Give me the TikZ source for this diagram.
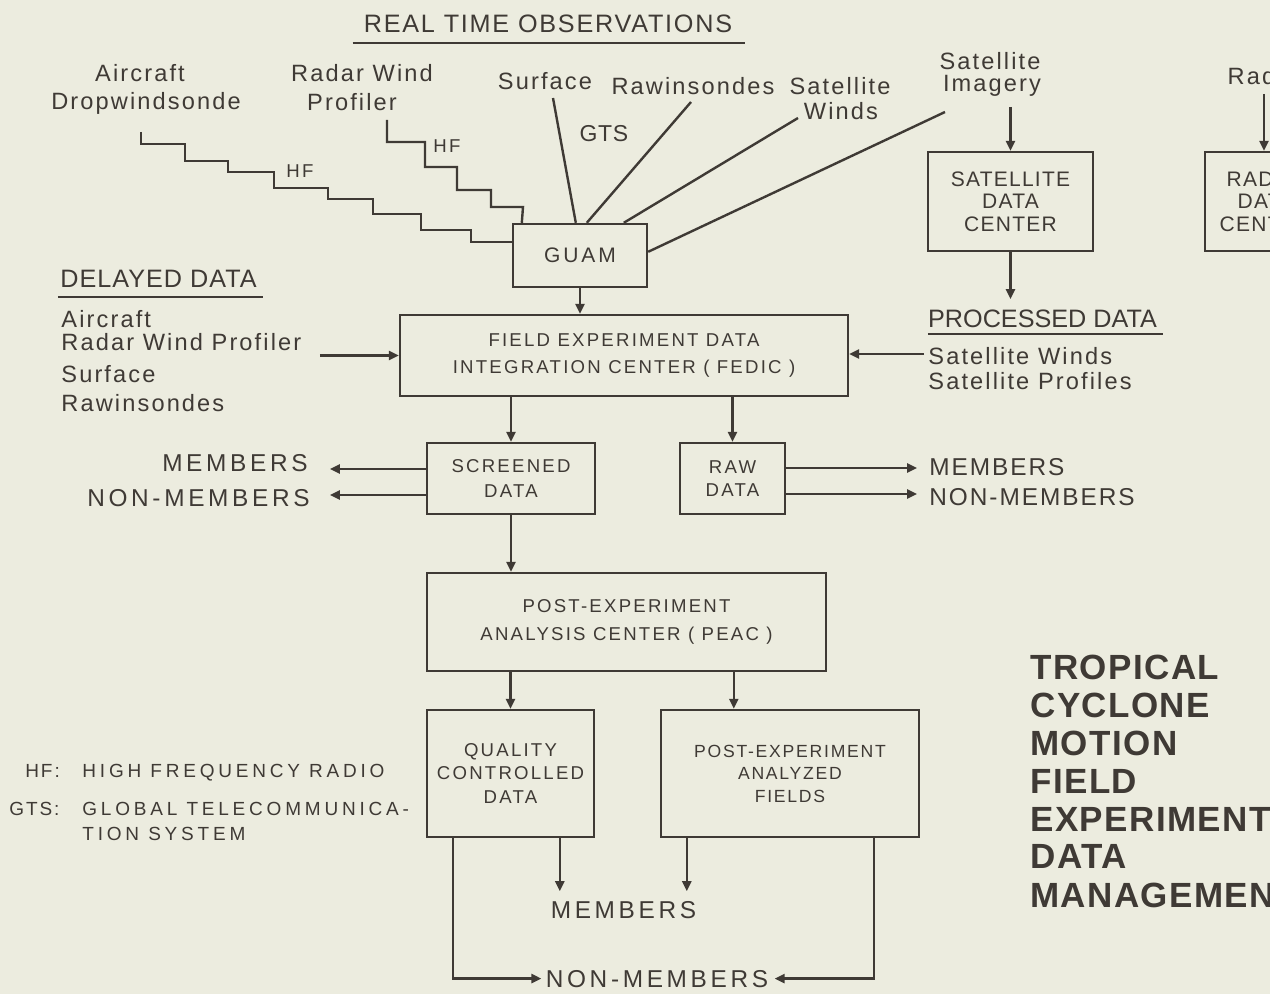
\documentclass[tikz,border=0pt]{standalone}
\usepackage{fontspec}
\setmainfont{Liberation Sans}
\usetikzlibrary{arrows.meta,calc}
\definecolor{ink}{HTML}{3F3A35}
\definecolor{paper}{HTML}{ECECDF}
\newcommand\FS[3]{\fontsize{#1}{#2}\selectfont\addfontfeature{LetterSpace=#3}}
\tikzset{
  wire/.style={draw=ink, line width=1.2pt, line join=miter},
  arr/.style={wire, -{Triangle[length=5pt,width=4.5pt]}},
  box/.style={draw=ink, line width=1.2pt, inner sep=0pt, align=center, text=ink},
  lbl/.style={inner sep=0pt, text=ink, anchor=base},
  fMix/.style={font={\FS{11.8}{14}{9}}},
  fBox/.style={font={\FS{9.3}{#1}{12}}},
  fMem/.style={font={\FS{12.2}{14}{15}}},
  fLeg/.style={font={\FS{9.5}{12}{20}}},
  fTit/.style={font={\fontsize{17.5}{19}\selectfont\bfseries\addfontfeature{LetterSpace=4}}},
}
\begin{document}
\begin{tikzpicture}[x=0.5pt,y=-0.5pt]
\useasboundingbox (0,0) rectangle (1270,994);
\fill[paper] (0,0) rectangle (1270,994);
\clip (0,0) rectangle (1270,994);

% ---------- headings ----------
\node[lbl, font={\FS{12.6}{14}{7}}] (rto) at (548,33) {REAL TIME OBSERVATIONS};
\draw[wire] ([xshift=-5.5pt,yshift=-5pt]rto.base west) -- ([xshift=6pt,yshift=-5pt]rto.base east);

% ---------- real-time source labels ----------
\node[lbl, fMix] (ac) at (140,82) {Aircraft};
\node[lbl, fMix] (dw) at (146,110) {Dropwindsonde};
\node[lbl, fMix] (rw) at (362,82) {Radar Wind};
\node[lbl, fMix] (pf) at (352,111) {Profiler};
\node[lbl, fMix] (sf) at (545,90) {Surface};
\node[lbl, fMix] (rs) at (693,95) {Rawinsondes};
\node[lbl, fMix] (sw1) at (840,95) {Satellite};
\node[lbl, fMix] (sw2) at (841,120) {Winds};
\node[lbl, fMix] (si1) at (990,70) {Satellite};
\node[lbl, fMix] (si2) at (992,92) {Imagery};
\node[lbl, fMix] (rad) at (1264,85) {Radar};
\node[lbl, font={\FS{11.5}{14}{3}}] (gts) at (604,142) {GTS};
\node[lbl, fBox=12] (hf1) at (300,178) {HF};
\node[lbl, fBox=12] (hf2) at (447,153) {HF};

% ---------- boxes ----------
\node[box, minimum width=67pt, minimum height=31.5pt, font={\FS{10.5}{12}{14}}] (guam) at (580,255.5) {GUAM};
\node[box, minimum width=82.5pt, minimum height=49.5pt, font={\FS{10.5}{11.25}{6}}] (sdc) at (1010.5,201.5) {SATELLITE\\DATA\\CENTER};
\node[box, minimum width=61pt, minimum height=49.5pt, font={\FS{10.5}{11.25}{6}}] (radc) at (1266,201.5) {RADAR\\DATA\\CENTER};
\node[box, minimum width=224pt, minimum height=40.5pt, fBox=13.5] (fedic) at (624,355.5) {FIELD EXPERIMENT DATA\\INTEGRATION CENTER ( FEDIC )};
\node[box, minimum width=84pt, minimum height=35.5pt, fBox=12.5] (scr) at (511,478.5) {SCREENED\\DATA};
\node[box, minimum width=52.5pt, minimum height=35.5pt, fBox=11.75] (raw) at (732.5,478.5) {RAW\\DATA};
\node[box, minimum width=199.5pt, minimum height=49pt, fBox=14] (peac) at (626.5,622) {POST-EXPERIMENT\\ANALYSIS CENTER ( PEAC )};
\node[box, minimum width=83.5pt, minimum height=63.5pt, fBox=11.75] (qc) at (510.5,773.5) {QUALITY\\CONTROLLED\\DATA};
\node[box, minimum width=129pt, minimum height=63.5pt, font={\FS{8.8}{11.25}{10}}] (peaf) at (790,773.5) {POST-EXPERIMENT\\ANALYZED\\FIELDS};

% ---------- delayed / processed data ----------
\node[lbl, font={\FS{12.6}{14}{4}}] (dd) at (158.5,288) {DELAYED DATA};
\draw[wire] ([xshift=-1pt,yshift=-4.5pt]dd.base west) -- ([xshift=3pt,yshift=-4.5pt]dd.base east);
\node[lbl, fMix, anchor=base west] (d1) at (61,328) {Aircraft};
\node[lbl, fMix, anchor=base west] (d2) at (61,351) {Radar Wind Profiler};
\node[lbl, fMix, anchor=base west] (d3) at (61,383) {Surface};
\node[lbl, fMix, anchor=base west] (d4) at (61,412) {Rawinsondes};

\node[lbl, font={\FS{12.6}{14}{0}}] (pd) at (1042.5,328) {PROCESSED DATA};
\draw[wire] ([yshift=-3pt]pd.base west) -- ([xshift=3pt,yshift=-3pt]pd.base east);
\node[lbl, fMix, anchor=base west] (p1) at (928,365) {Satellite Winds};
\node[lbl, fMix, anchor=base west] (p2) at (928,390) {Satellite Profiles};

% ---------- members labels ----------
\node[lbl, fMem, anchor=base east] (ml) at (308,472) {MEMBERS};
\node[lbl, fMem, anchor=base east] (nl) at (310,507) {NON-MEMBERS};
\node[lbl, font={\FS{12.2}{14}{8}}, anchor=base west] (mr) at (929,476) {MEMBERS};
\node[lbl, font={\FS{12.2}{14}{8}}, anchor=base west] (nr) at (929,506) {NON-MEMBERS};
\node[lbl, fMem] (mb) at (623.5,918) {MEMBERS};
\node[lbl, fMem] (nmb) at (657,987) {NON-MEMBERS};

% ---------- legend ----------
\node[lbl, font={\FS{9.5}{12}{10}}, anchor=base west] (hfk) at (25,777) {HF:};
\node[lbl, fLeg, anchor=base west] (hfv) at (82,777) {HIGH FREQUENCY RADIO};
\node[lbl, font={\FS{9.5}{12}{10}}, anchor=base west] (gtk) at (9,815) {GTS:};
\node[lbl, fLeg, anchor=base west] (gtv) at (82,815) {GLOBAL TELECOMMUNICA-};
\node[lbl, fLeg, anchor=base west] (gtv2) at (82,840) {TION SYSTEM};

% ---------- title ----------
\node[lbl, fTit, anchor=base west] (t1) at (1030,680) {TROPICAL};
\node[lbl, fTit, anchor=base west] (t2) at (1030,718) {CYCLONE};
\node[lbl, fTit, anchor=base west] (t3) at (1030,755) {MOTION};
\node[lbl, fTit, anchor=base west] (t4) at (1030,793) {FIELD};
\node[lbl, fTit, anchor=base west] (t5) at (1030,831) {EXPERIMENT};
\node[lbl, fTit, anchor=base west] (t6) at (1030,868) {DATA};
\node[lbl, fTit, anchor=base west] (t7) at (1030,907) {MANAGEMENT};

% ---------- feeds into GUAM ----------
\draw[wire] (141,132) -- (141,144) -- (185,144) -- (185,161) -- (228,161) -- (228,172)
  -- (274,172) -- (274,188) -- (328,188) -- (328,199) -- (373,199) -- (373,214)
  -- (421,214) -- (421,230) -- (471,230) -- (471,242) -- ($(guam.west)+(0,-13.5)$);
\draw[wire] (387,120) -- (387,142) -- (425,142) -- (425,167) -- (457,167) -- (457,190)
  -- (491,190) -- (491,207) -- (523,207) -- ($(guam.north west)+(10,0)$);
\coordinate (sfs) at (553,98);
\coordinate (rss) at (691,102);
\coordinate (sws) at (798,118);
\coordinate (sis) at (945,112);
\draw[wire] (sfs) -- ($(guam.north west)+(64,0)$);
\draw[wire] (rss) -- ($(guam.north west)+(75,0)$);
\draw[wire] (sws) -- ($(guam.north west)+(112,0)$);
\draw[wire] (sis) -- ($(guam.north east)+(0,29)$);

% ---------- main flow ----------
\draw[arr] (guam.south) -- (guam.south |- fedic.north);
\coordinate (din) at ($(fedic.west)+(-79,0)$);
\draw[arr] (din) -- (fedic.west);
\coordinate (pin) at ($(fedic.east)+(75,-1.5)$);
\draw[arr] (pin) -- (pin -| fedic.east);
\coordinate (sin) at ($(sdc.north)+(0,-44)$);
\draw[arr] (sin) -- (sdc.north);
\coordinate (sout) at ($(sdc.south)+(0,47)$);
\draw[arr] (sdc.south) -- (sout);
\coordinate (rin) at ($(radc.north)+(-2,-57)$);
\draw[arr] (rin) -- (rin |- radc.north);

\draw[arr] (scr.north |- fedic.south) -- (scr.north);
\draw[arr] (raw.north |- fedic.south) -- (raw.north);
\draw[arr] (scr.south) -- (scr.south |- peac.north);
\draw[arr] (qc.north |- peac.south) -- (qc.north);
\coordinate (pa) at ($(peaf.north west)+(74,0)$);
\draw[arr] (pa |- peac.south) -- (pa);

% screened / raw outputs
\coordinate (so1) at ($(scr.west)+(0,-9.5)$);
\coordinate (so1e) at ($(so1)+(-96,0)$);
\coordinate (so2) at ($(scr.west)+(0,16.5)$);
\coordinate (so2e) at ($(so2)+(-96,0)$);
\draw[arr] (so1) -- (so1e);
\draw[arr] (so2) -- (so2e);
\coordinate (ro1) at ($(raw.east)+(0,-10.5)$);
\coordinate (ro1e) at ($(ro1)+(131,0)$);
\coordinate (ro2) at ($(raw.east)+(0,15.5)$);
\coordinate (ro2e) at ($(ro2)+(131,0)$);
\draw[arr] (ro1) -- (ro1e);
\draw[arr] (ro2) -- (ro2e);

% bottom distribution
\coordinate (qa) at ($(qc.south west)+(134,0)$);
\coordinate (qae) at ($(qa)+(0,53)$);
\draw[arr] (qa) -- (qae);
\coordinate (fa) at ($(peaf.south west)+(27,0)$);
\coordinate (fae) at ($(fa)+(0,53)$);
\draw[arr] (fa) -- (fae);
\coordinate (ql) at ($(qc.south west)+(27,0)$);
\draw[arr, shorten >=2pt] (ql) |- (nmb.west);
\coordinate (pr) at ($(peaf.south east)+(-46,0)$);
\draw[arr, shorten >=3pt] (pr) |- (nmb.east);
\end{tikzpicture}
\end{document}
